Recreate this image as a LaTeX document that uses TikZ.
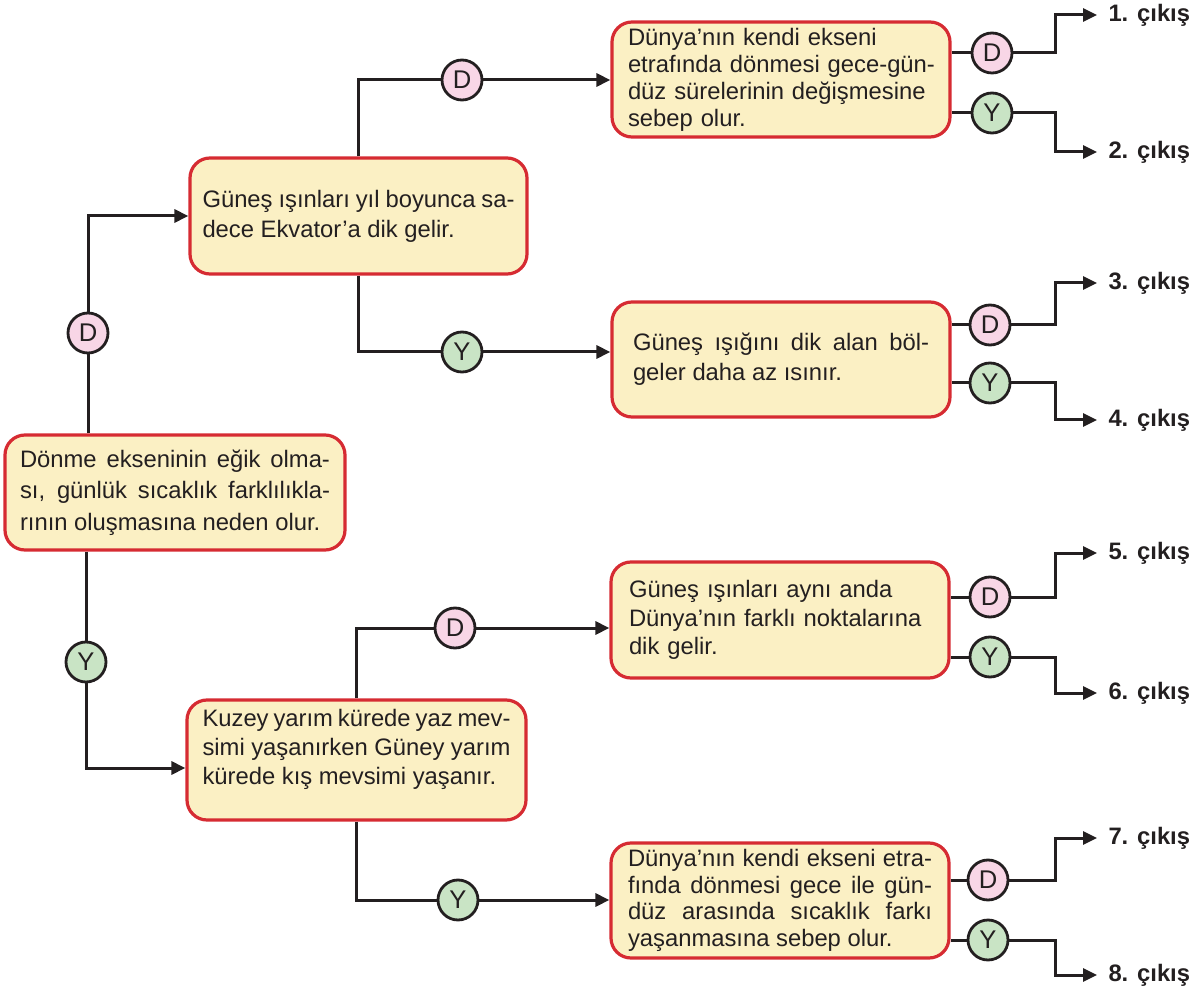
\documentclass[tikz,border=0pt]{standalone}
\usepackage{fontspec}
\setmainfont{Liberation Sans}
\usetikzlibrary{arrows.meta}
\definecolor{boxred}{HTML}{D62B32}
\definecolor{boxfill}{HTML}{FBF0C4}
\definecolor{dpink}{HTML}{F8D6E6}
\definecolor{ygreen}{HTML}{C9E4C5}
\definecolor{ink}{HTML}{231F20}
\newcommand{\boxfont}[1]{\fontsize{11.9pt}{#1}\selectfont\tolerance=10000\hbadness=10000\hfuzz=20pt}

\begin{document}
\begin{tikzpicture}[x=0.5pt,y=-0.5pt,line width=1.5pt,color=ink,
>={Triangle[length=7pt,width=6.5pt]},
textbox/.style={draw=boxred,fill=boxfill,rounded corners=10pt,line width=1.6pt,inner ysep=1pt,text=ink},
dcirc/.style={draw=ink,fill=dpink,circle,minimum size=20pt,inner sep=0pt,line width=1.4pt,text=ink,font=\fontsize{12.8pt}{14pt}\selectfont},
ycirc/.style={dcirc,fill=ygreen},
exitlbl/.style={anchor=west,inner xsep=5pt,text=ink,font=\boxfont{14pt}\bfseries}]

\useasboundingbox (0,0) rectangle (1194,994);

% question boxes
\draw (175,492.5) node[textbox,text width=155pt,inner xsep=7.5pt,minimum height=57.5pt,align=justify,font=\boxfont{15.75pt}] (root) {Dönme ekseninin eğik olma-\linebreak sı, günlük sıcaklık farklılıkla-\linebreak rının oluşmasına neden olur.};
\draw (358.5,216) node[textbox,text width=156pt,inner xsep=6.25pt,minimum height=58pt,align=justify,font=\boxfont{15pt}] (A) {Güneş ışınları yıl boyunca sa-\linebreak dece Ekvator’a dik gelir.};
\draw (356.5,760) node[textbox,text width=154pt,inner xsep=7.75pt,minimum height=60pt,align=justify,font=\boxfont{14.5pt}] (B) {Kuzey yarım kürede yaz mev-\linebreak simi yaşanırken Güney yarım\linebreak kürede kış mevsimi yaşanır.\par\vspace*{11pt}};

\draw (781,79.5) node[textbox,text width=153pt,inner xsep=8pt,minimum height=57.5pt,align=left,font=\boxfont{13.5pt}] (L1) {\mbox{Dünya’nın kendi ekseni}\\ \mbox{etrafında dönmesi gece-gün-}\\ \mbox{düz sürelerinin değişmesine}\\ sebep olur.};
\draw (781,359.5) node[textbox,text width=148pt,inner xsep=10.5pt,minimum height=57.5pt,align=justify,font=\boxfont{15pt}] (L2) {Güneş ışığını dik alan böl-\linebreak geler daha az ısınır.};
\draw (780,620) node[textbox,text width=151pt,inner xsep=9pt,minimum height=58pt,align=left,font=\boxfont{14.25pt}] (L3) {\mbox{Güneş ışınları aynı anda}\\ \mbox{Dünya’nın farklı noktalarına}\\ dik gelir.};
\draw (780,900.5) node[textbox,text width=152pt,inner xsep=8.5pt,minimum height=57.5pt,align=justify,font=\boxfont{13.35pt}] (L4) {Dünya’nın kendi ekseni etra-\linebreak fında dönmesi gece ile gün-\linebreak düz arasında sıcaklık farkı\linebreak yaşanmasına sebep olur.};

% answer circles
\draw (88,333) node[dcirc] (dR) {D};
\draw (86,662) node[ycirc] (yR) {Y};
\draw (462,80) node[dcirc] (dA) {D};
\draw (462,352) node[ycirc] (yA) {Y};
\draw (455,628) node[dcirc] (dB) {D};
\draw (458,900) node[ycirc] (yB) {Y};

\draw (992,53) node[dcirc] (d1) {D};
\draw (992,113) node[ycirc] (y1) {Y};
\draw (990,325) node[dcirc] (d2) {D};
\draw (990,383) node[ycirc] (y2) {Y};
\draw (990,597) node[dcirc] (d3) {D};
\draw (990,657) node[ycirc] (y3) {Y};
\draw (988,880) node[dcirc] (d4) {D};
\draw (988,940) node[ycirc] (y4) {Y};

% exits
\draw (1097,15) node[exitlbl] (o1) {1. çıkış};
\draw (1097,152) node[exitlbl] (o2) {2. çıkış};
\draw (1097,283) node[exitlbl] (o3) {3. çıkış};
\draw (1097,420) node[exitlbl] (o4) {4. çıkış};
\draw (1097,553) node[exitlbl] (o5) {5. çıkış};
\draw (1097,693) node[exitlbl] (o6) {6. çıkış};
\draw (1097,838) node[exitlbl] (o7) {7. çıkış};
\draw (1097,975) node[exitlbl] (o8) {8. çıkış};

% connectors
\draw (dR |- root.north) -- (dR);
\draw[->] (dR) |- (A.west);
\draw (yR |- root.south) -- (yR);
\draw[->] (yR) |- ([yshift=-4pt]B.west);

\draw (A.north) |- (dA);
\draw[->] (dA) -- (dA -| L1.west);
\draw (A.south) |- (yA);
\draw[->] (yA) -- (yA -| L2.west);
\draw (B.north) |- (dB);
\draw[->] (dB) -- (dB -| L3.west);
\draw (B.south) |- (yB);
\draw[->] (yB) -- (yB -| L4.west);

\draw (d1 -| L1.east) -- (d1);
\draw[->] (d1) -- ++(63,0) |- (o1.west);
\draw (y1 -| L1.east) -- (y1);
\draw[->] (y1) -- ++(63,0) |- (o2.west);
\draw (d2 -| L2.east) -- (d2);
\draw[->] (d2) -- ++(65,0) |- (o3.west);
\draw (y2 -| L2.east) -- (y2);
\draw[->] (y2) -- ++(65,0) |- (o4.west);
\draw (d3 -| L3.east) -- (d3);
\draw[->] (d3) -- ++(65,0) |- (o5.west);
\draw (y3 -| L3.east) -- (y3);
\draw[->] (y3) -- ++(65,0) |- (o6.west);
\draw (d4 -| L4.east) -- (d4);
\draw[->] (d4) -- ++(67,0) |- (o7.west);
\draw (y4 -| L4.east) -- (y4);
\draw[->] (y4) -- ++(67,0) |- (o8.west);
\end{tikzpicture}
\end{document}
